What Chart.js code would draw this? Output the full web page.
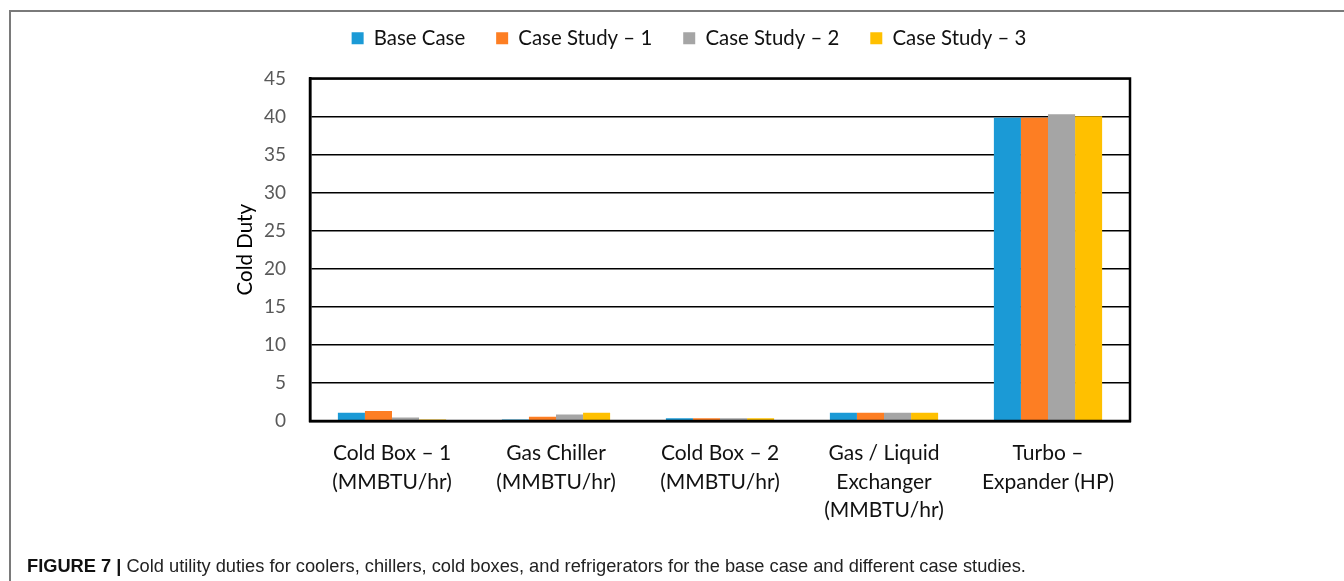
<!DOCTYPE html>
<html>
<head>
<meta charset="utf-8">
<script src="https://cdn.jsdelivr.net/npm/chart.js@4.4.1/dist/chart.umd.min.js"></script>
<style>
  html, body { margin: 0; padding: 0; background: #fff; }
  body { width: 1344px; height: 581px; position: relative; overflow: hidden; }
  #frame { position: absolute; left: 9px; top: 10px; right: 0; bottom: 0;
           border-top: 2px solid #7a7a7a; border-left: 2px solid #7a7a7a; }
  #wrap { position: absolute; left: 0; top: 0; width: 1344px; height: 581px; }
  #caption { position: absolute; left: 27px; top: 555px; white-space: nowrap;
             font-family: "Liberation Sans", Arial, sans-serif;
             font-size: 18.25px; color: #222; }
  #caption b { color: #111; }
</style>
</head>
<body>
<div id="frame"></div>
<div id="wrap"><canvas id="chart" width="1344" height="581"></canvas></div>
<div id="caption"><b>FIGURE 7 |</b> Cold utility duties for coolers, chillers, cold boxes, and refrigerators for the base case and different case studies.</div>
<script>
// Equipment categories (multi-line axis labels)
const categories = [
  ["Cold Box \u2013 1", "(MMBTU/hr)"],
  ["Gas Chiller", "(MMBTU/hr)"],
  ["Cold Box \u2013 2", "(MMBTU/hr)"],
  ["Gas / Liquid", "Exchanger", "(MMBTU/hr)"],
  ["Turbo \u2013", "Expander (HP)"]
];

// Cold duty per case
const baseCase   = [1.1, 0.2, 0.35, 1.1, 39.85];
const caseStudy1 = [1.3, 0.55, 0.35, 1.1, 39.85];
const caseStudy2 = [0.45, 0.85, 0.35, 1.1, 40.3];
const caseStudy3 = [0.2, 1.1, 0.35, 1.1, 40.05];

const seriesNames = ["Base Case", "Case Study \u2013 1", "Case Study \u2013 2", "Case Study \u2013 3"];
const seriesColors = ["#1b9ad6", "#fd7e23", "#a5a5a5", "#ffc000"];

// Y axis range
const yMin = 0, yMax = 45, yStep = 5;

const FONT = "Lato, 'Open Sans', sans-serif";

// Closed black frame around the plotting area
const plotFrame = {
  id: 'plotFrame',
  afterDraw(chart) {
    const {ctx, chartArea: a} = chart;
    ctx.save();
    ctx.strokeStyle = '#000';
    ctx.lineWidth = 2.5;
    ctx.strokeRect(a.left, a.top, a.right - a.left, a.bottom - a.top);
    ctx.restore();
  }
};

// Reserve a fixed band for the legend above the plot
const legendBand = {
  id: 'legendBand',
  afterInit(chart) {
    const lg = chart.legend;
    if (!lg) return;
    const fit = lg.fit;
    lg.fit = function () { fit.call(this); this.height = 81.5; };
  }
};

const datasets = [baseCase, caseStudy1, caseStudy2, caseStudy3].map((d, i) => ({
  label: seriesNames[i],
  data: d,
  backgroundColor: seriesColors[i],
  borderWidth: 0,
  barPercentage: 1.0,
  categoryPercentage: 0.66
}));

new Chart(document.getElementById('chart'), {
  type: 'bar',
  data: { labels: categories, datasets },
  plugins: [plotFrame, legendBand],
  options: {
    responsive: false,
    animation: false,
    layout: { padding: { left: 248, right: 214, top: -3, bottom: 60 } },
    plugins: {
      tooltip: { enabled: false },
      legend: {
        position: 'top',
        labels: {
          boxWidth: 12, boxHeight: 12, padding: 31,
          color: '#111',
          font: { family: FONT, size: 20.4 }
        }
      }
    },
    scales: {
      x: {
        grid: { display: false, drawTicks: false },
        border: { display: true, color: '#000', width: 2.5 },
        ticks: { color: '#111', padding: 18, maxRotation: 0, autoSkip: false,
                 font: { family: FONT, size: 21, lineHeight: 1.36 } },
        afterFit(s) { s.height = 100; }
      },
      y: {
        min: yMin, max: yMax,
        grid: { color: '#000', lineWidth: 1.5, drawTicks: false },
        border: { display: true, color: '#000', width: 2.5 },
        ticks: { stepSize: yStep, color: '#595959', padding: 24,
                 font: { family: FONT, size: 19 } },
        title: { display: true, text: 'Cold Duty', color: '#000',
                 font: { family: FONT, size: 20.5 }, padding: { top: -15, bottom: 0 } },
        afterFit(s) { s.width = 62; }
      }
    }
  }
});
</script>
</body>
</html>
